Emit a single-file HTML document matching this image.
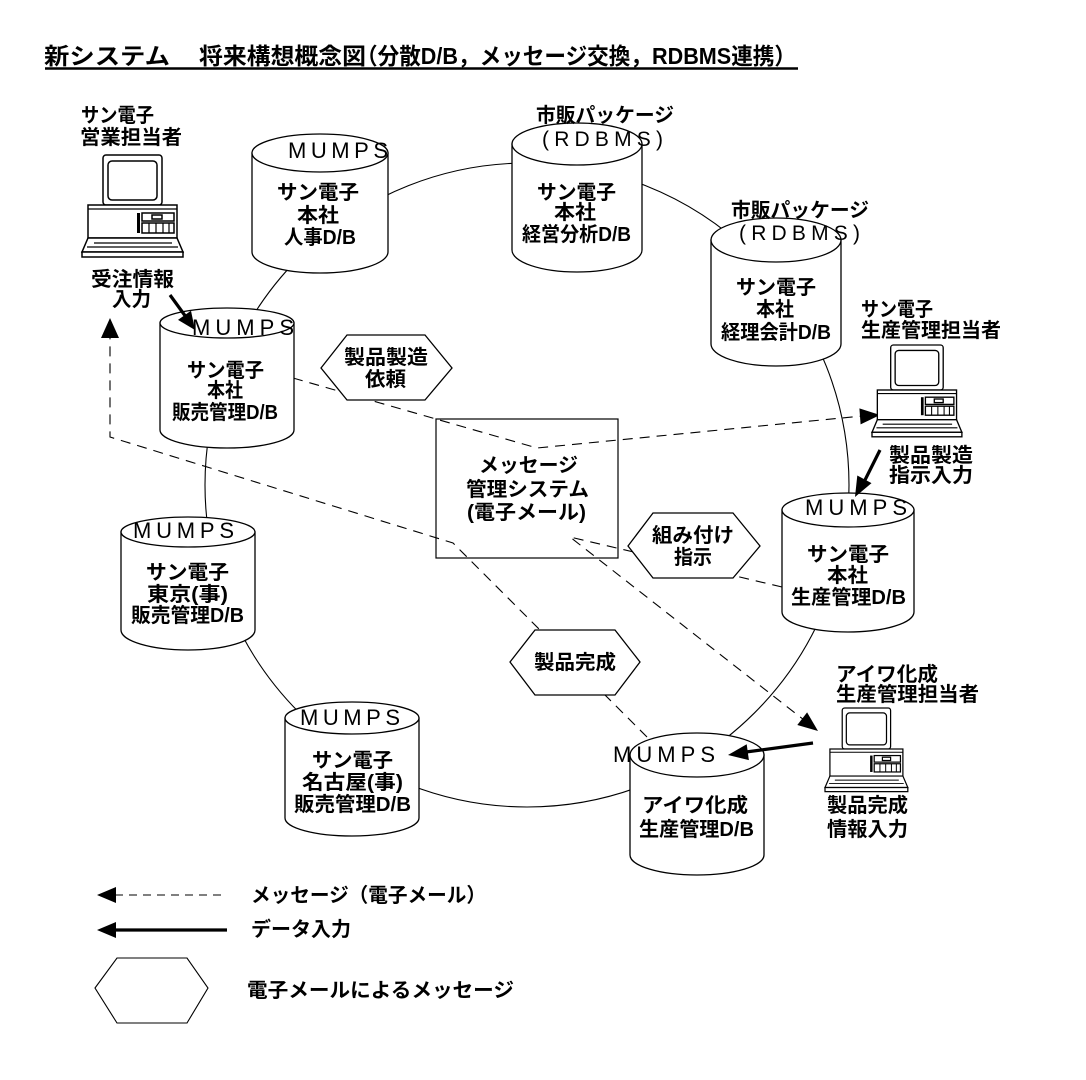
<!DOCTYPE html>
<html>
<head>
<meta charset="utf-8">
<style>
html,body{margin:0;padding:0;background:#fff;}
svg{display:block;}
.t{font-family:"Liberation Sans","Noto Sans CJK JP",sans-serif;font-size:23px;font-weight:bold;fill:#000;}
.j{font-family:"Liberation Sans","Noto Sans CJK JP",sans-serif;font-size:20px;font-weight:bold;fill:#000;}
.n{font-family:"Liberation Sans","Noto Sans CJK JP",sans-serif;font-size:20px;font-weight:bold;fill:#000;}
.m{font-family:"Liberation Sans",sans-serif;font-size:22px;font-weight:normal;fill:#000;}
.r{font-family:"Liberation Sans",sans-serif;font-size:21px;font-weight:normal;fill:#000;}
.s{fill:#fff;stroke:#000;stroke-width:1.3;}
.ln{fill:none;stroke:#000;stroke-width:1.1;}
.d{fill:none;stroke:#000;stroke-width:1.1;stroke-dasharray:10 7;}
.th{fill:none;stroke:#000;stroke-width:3.2;}
.pc rect,.pc polygon{fill:#fff;stroke:#000;stroke-width:1.5;}
.pc line{stroke:#000;stroke-width:1.2;}
</style>
</head>
<body>
<svg width="1086" height="1080" viewBox="0 0 1086 1080" xmlns="http://www.w3.org/2000/svg">
<rect width="1086" height="1080" fill="#fff"/>

<!-- Title -->
<text class="t" x="44" y="64" textLength="126" lengthAdjust="spacingAndGlyphs">新システム</text>
<text class="t" x="199" y="64" textLength="167" lengthAdjust="spacingAndGlyphs">将来構想概念図</text>
<text class="t" x="356" y="64" textLength="440" lengthAdjust="spacingAndGlyphs">（分散D/B，メッセージ交換，RDBMS連携）</text>
<line x1="45" y1="68.5" x2="798" y2="68.5" stroke="#000" stroke-width="2.5"/>

<!-- Ring connector -->
<circle cx="527" cy="485" r="322" class="ln"/>

<!-- Dashed message lines -->
<polyline class="d" points="293,378 537,448 862,416"/>
<polyline class="d" points="782,587 570,537 804,720"/>
<polyline class="d" points="647,737 453,543 110,437 110,336"/>

<!-- Message box -->
<rect x="436" y="419" width="182" height="139" fill="none" stroke="#000" stroke-width="1.2"/>
<text class="n" x="479" y="472" textLength="99" lengthAdjust="spacingAndGlyphs">メッセージ</text>
<text class="n" x="466" y="496" textLength="123" lengthAdjust="spacingAndGlyphs">管理システム</text>
<text class="n" x="467" y="519" textLength="119" lengthAdjust="spacingAndGlyphs">(電子メール)</text>

<!-- Hexagons -->
<polygon class="s" points="321,368 347,335 425,335 452,368 425,400 347,400"/>
<text class="j" x="344" y="364" textLength="84" lengthAdjust="spacingAndGlyphs">製品製造</text>
<text class="j" x="365" y="386" textLength="41" lengthAdjust="spacingAndGlyphs">依頼</text>

<polygon class="s" points="628,546 653,513 733,513 760,546 733,578 653,578"/>
<text class="j" x="652" y="542" textLength="82" lengthAdjust="spacingAndGlyphs">組み付け</text>
<text class="j" x="674" y="564" textLength="38" lengthAdjust="spacingAndGlyphs">指示</text>

<polygon class="s" points="510,662 535,630 615,630 640,662 615,695 535,695"/>
<text class="j" x="534" y="669" textLength="82" lengthAdjust="spacingAndGlyphs">製品完成</text>

<!-- Cylinders -->
<path class="s" d="M252,153 V252 A68,21 0 0 0 388,252 V153 Z"/>
<ellipse class="s" cx="320" cy="153" rx="68" ry="19"/>
<text class="m" x="288" y="158" textLength="100" lengthAdjust="spacing">MUMPS</text>
<text class="j" x="277" y="199" textLength="82" lengthAdjust="spacingAndGlyphs">サン電子</text>
<text class="j" x="297" y="222" textLength="42" lengthAdjust="spacingAndGlyphs">本社</text>
<text class="j" x="284" y="244" textLength="72" lengthAdjust="spacingAndGlyphs">人事D/B</text>

<path class="s" d="M512,144 V250 A65,22 0 0 0 642,250 V144 Z"/>
<ellipse class="s" cx="577" cy="144" rx="65" ry="21"/>
<text class="j" x="536" y="122" textLength="138" lengthAdjust="spacingAndGlyphs">市販パッケージ</text>
<text class="r" x="542" y="146" textLength="121" lengthAdjust="spacing">(RDBMS)</text>
<text class="j" x="537" y="199" textLength="79" lengthAdjust="spacingAndGlyphs">サン電子</text>
<text class="j" x="554" y="219" textLength="42" lengthAdjust="spacingAndGlyphs">本社</text>
<text class="j" x="522" y="241" textLength="109" lengthAdjust="spacingAndGlyphs">経営分析D/B</text>

<path class="s" d="M711,240 V344 A65,22 0 0 0 841,344 V240 Z"/>
<ellipse class="s" cx="776" cy="240" rx="65" ry="22"/>
<text class="j" x="731" y="217" textLength="138" lengthAdjust="spacingAndGlyphs">市販パッケージ</text>
<text class="r" x="739" y="240" textLength="121" lengthAdjust="spacing">(RDBMS)</text>
<text class="j" x="736" y="294" textLength="80" lengthAdjust="spacingAndGlyphs">サン電子</text>
<text class="j" x="756" y="316" textLength="38" lengthAdjust="spacingAndGlyphs">本社</text>
<text class="j" x="721" y="339" textLength="110" lengthAdjust="spacingAndGlyphs">経理会計D/B</text>

<path class="s" d="M782,510 V612 A66,20 0 0 0 914,612 V510 Z"/>
<ellipse class="s" cx="848" cy="510" rx="66" ry="17"/>
<text class="m" x="805" y="515" textLength="102" lengthAdjust="spacing">MUMPS</text>
<text class="j" x="807" y="561" textLength="82" lengthAdjust="spacingAndGlyphs">サン電子</text>
<text class="j" x="827" y="582" textLength="41" lengthAdjust="spacingAndGlyphs">本社</text>
<text class="j" x="791" y="604" textLength="115" lengthAdjust="spacingAndGlyphs">生産管理D/B</text>

<path class="s" d="M630,755 V855 A67,20 0 0 0 764,855 V755 Z"/>
<ellipse class="s" cx="697" cy="755" rx="67" ry="22"/>
<text class="m" x="613" y="762" textLength="102" lengthAdjust="spacing">MUMPS</text>
<text class="j" x="642" y="812" textLength="106" lengthAdjust="spacingAndGlyphs">アイワ化成</text>
<text class="j" x="639" y="836" textLength="115" lengthAdjust="spacingAndGlyphs">生産管理D/B</text>

<path class="s" d="M285,718 V818 A67,18 0 0 0 419,818 V718 Z"/>
<ellipse class="s" cx="352" cy="718" rx="67" ry="16"/>
<text class="m" x="300" y="725" textLength="100" lengthAdjust="spacing">MUMPS</text>
<text class="j" x="312" y="767" textLength="81" lengthAdjust="spacingAndGlyphs">サン電子</text>
<text class="j" x="302" y="789" textLength="101" lengthAdjust="spacingAndGlyphs">名古屋(事)</text>
<text class="j" x="294" y="811" textLength="117" lengthAdjust="spacingAndGlyphs">販売管理D/B</text>

<path class="s" d="M121,532 V630 A67,20 0 0 0 255,630 V532 Z"/>
<ellipse class="s" cx="188" cy="532" rx="67" ry="15"/>
<text class="m" x="133" y="538" textLength="101" lengthAdjust="spacing">MUMPS</text>
<text class="j" x="146" y="579" textLength="83" lengthAdjust="spacingAndGlyphs">サン電子</text>
<text class="j" x="147" y="601" textLength="81" lengthAdjust="spacingAndGlyphs">東京(事)</text>
<text class="j" x="131" y="622" textLength="113" lengthAdjust="spacingAndGlyphs">販売管理D/B</text>

<path class="s" d="M160,323 V430 A67,18 0 0 0 294,430 V323 Z"/>
<ellipse class="s" cx="227" cy="323" rx="67" ry="15"/>
<text class="m" x="192" y="335" textLength="102" lengthAdjust="spacing">MUMPS</text>
<text class="j" x="187" y="377" textLength="77" lengthAdjust="spacingAndGlyphs">サン電子</text>
<text class="j" x="207" y="397" textLength="36" lengthAdjust="spacingAndGlyphs">本社</text>
<text class="j" x="172" y="419" textLength="106" lengthAdjust="spacingAndGlyphs">販売管理D/B</text>

<!-- Arrowheads for dashed message lines -->
<polygon points="880,415 860.6,424.4 859.4,408.4" fill="#000"/>
<polygon points="818,731 797.3,725 807.1,712.4" fill="#000"/>
<polygon points="110,318 101,338 119,338" fill="#000"/>

<!-- Thick data-input arrows -->
<line class="th" x1="170" y1="295" x2="186" y2="317"/>
<polygon points="195,330 178,319.9 191,310.7" fill="#000"/>
<line class="th" x1="880" y1="450" x2="865" y2="480"/>
<polygon points="855,497 871.5,483.1 857.3,475.5" fill="#000"/>
<line class="th" x1="813" y1="743" x2="746" y2="752"/>
<polygon points="728,755 748.9,760.1 746.7,744.3" fill="#000"/>

<!-- PC 1 -->
<g class="pc" transform="translate(82,155)">
 <rect x="21" y="0" width="59" height="50" rx="3"/>
 <rect x="26" y="6" width="49" height="39" rx="4"/>
 <rect x="6" y="50" width="89" height="33"/>
 <line x1="6" y1="54" x2="95" y2="54"/>
 <rect x="55" y="58" width="3" height="20" style="fill:#000;stroke:none"/>
 <rect x="60" y="58" width="32" height="8"/>
 <rect x="70" y="60" width="10" height="4"/>
 <rect x="60" y="68" width="32" height="10"/>
 <line x1="67" y1="68" x2="67" y2="78"/><line x1="74" y1="68" x2="74" y2="78"/><line x1="81" y1="68" x2="81" y2="78"/><line x1="87" y1="68" x2="87" y2="78"/>
 <polygon points="6,83 95,83 101,97 0,97"/>
 <rect x="0" y="97" width="101" height="5"/>
 <line x1="12" y1="88" x2="90" y2="88"/>
 <line x1="5" y1="92" x2="96" y2="92"/>
</g>
<text class="j" x="81" y="122" textLength="73" lengthAdjust="spacingAndGlyphs">サン電子</text>
<text class="j" x="80" y="144" textLength="102" lengthAdjust="spacingAndGlyphs">営業担当者</text>
<text class="j" x="91" y="286" textLength="83" lengthAdjust="spacingAndGlyphs">受注情報</text>
<text class="j" x="112" y="306" textLength="39" lengthAdjust="spacingAndGlyphs">入力</text>

<!-- PC 2 -->
<g class="pc" transform="translate(872,345) scale(0.89,0.9)">
 <rect x="21" y="0" width="59" height="50" rx="3"/>
 <rect x="26" y="6" width="49" height="39" rx="4"/>
 <rect x="6" y="50" width="89" height="33"/>
 <line x1="6" y1="54" x2="95" y2="54"/>
 <rect x="55" y="58" width="3" height="20" style="fill:#000;stroke:none"/>
 <rect x="60" y="58" width="32" height="8"/>
 <rect x="70" y="60" width="10" height="4"/>
 <rect x="60" y="68" width="32" height="10"/>
 <line x1="67" y1="68" x2="67" y2="78"/><line x1="74" y1="68" x2="74" y2="78"/><line x1="81" y1="68" x2="81" y2="78"/><line x1="87" y1="68" x2="87" y2="78"/>
 <polygon points="6,83 95,83 101,97 0,97"/>
 <rect x="0" y="97" width="101" height="5"/>
 <line x1="12" y1="88" x2="90" y2="88"/>
 <line x1="5" y1="92" x2="96" y2="92"/>
</g>
<text class="j" x="861" y="316" textLength="72" lengthAdjust="spacingAndGlyphs">サン電子</text>
<text class="j" x="861" y="337" textLength="140" lengthAdjust="spacingAndGlyphs">生産管理担当者</text>
<text class="j" x="889" y="462" textLength="84" lengthAdjust="spacingAndGlyphs">製品製造</text>
<text class="j" x="889" y="482" textLength="84" lengthAdjust="spacingAndGlyphs">指示入力</text>

<!-- PC 3 -->
<g class="pc" transform="translate(825,708) scale(0.82,0.82)">
 <rect x="21" y="0" width="59" height="50" rx="3"/>
 <rect x="26" y="6" width="49" height="39" rx="4"/>
 <rect x="6" y="50" width="89" height="33"/>
 <line x1="6" y1="54" x2="95" y2="54"/>
 <rect x="55" y="58" width="3" height="20" style="fill:#000;stroke:none"/>
 <rect x="60" y="58" width="32" height="8"/>
 <rect x="70" y="60" width="10" height="4"/>
 <rect x="60" y="68" width="32" height="10"/>
 <line x1="67" y1="68" x2="67" y2="78"/><line x1="74" y1="68" x2="74" y2="78"/><line x1="81" y1="68" x2="81" y2="78"/><line x1="87" y1="68" x2="87" y2="78"/>
 <polygon points="6,83 95,83 101,97 0,97"/>
 <rect x="0" y="97" width="101" height="5"/>
 <line x1="12" y1="88" x2="90" y2="88"/>
 <line x1="5" y1="92" x2="96" y2="92"/>
</g>
<text class="j" x="836" y="681" textLength="102" lengthAdjust="spacingAndGlyphs">アイワ化成</text>
<text class="j" x="836" y="701" textLength="143" lengthAdjust="spacingAndGlyphs">生産管理担当者</text>
<text class="j" x="827" y="812" textLength="81" lengthAdjust="spacingAndGlyphs">製品完成</text>
<text class="j" x="827" y="836" textLength="81" lengthAdjust="spacingAndGlyphs">情報入力</text>

<!-- Legend -->
<line class="d" x1="115" y1="895" x2="225" y2="895" style="stroke-dasharray:8 6"/>
<polygon points="97,895 116,887 116,903" fill="#000"/>
<text class="n" x="251" y="902" textLength="235" lengthAdjust="spacingAndGlyphs">メッセージ（電子メール）</text>

<line class="th" x1="114" y1="930" x2="227" y2="930"/>
<polygon points="97,930 116,922 116,938" fill="#000"/>
<text class="n" x="251" y="936" textLength="100" lengthAdjust="spacingAndGlyphs">データ入力</text>

<polygon class="s" points="95,988 117,958 187,958 208,988 187,1023 117,1023" style="stroke-width:1.1"/>
<text class="n" x="247" y="997" textLength="267" lengthAdjust="spacingAndGlyphs">電子メールによるメッセージ</text>
</svg>
</body>
</html>
